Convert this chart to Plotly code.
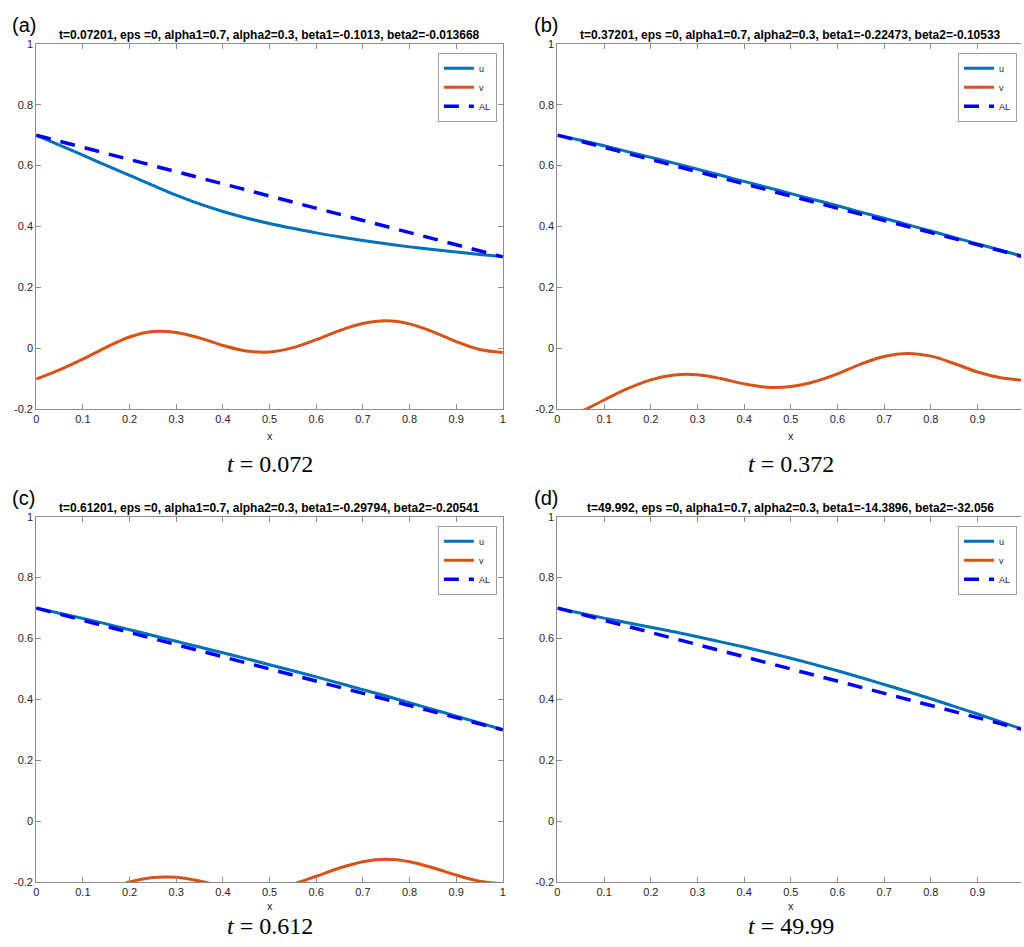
import plotly.graph_objects as go

# ---------------- data ----------------
x_grid = [0.00, 0.05, 0.10, 0.15, 0.20, 0.25, 0.30, 0.35, 0.40, 0.45, 0.50,
          0.55, 0.60, 0.65, 0.70, 0.75, 0.80, 0.85, 0.90, 0.95, 1.00]

# panel (a), t = 0.072
u_a = [0.700, 0.667, 0.634, 0.601, 0.568, 0.535, 0.503, 0.474, 0.449, 0.428, 0.410,
       0.394, 0.379, 0.366, 0.354, 0.343, 0.333, 0.324, 0.316, 0.308, 0.301]
v_a = [-0.1013, -0.071, -0.036, 0.003, 0.037, 0.055, 0.052, 0.034, 0.009, -0.009, -0.0125,
       0.002, 0.028, 0.058, 0.081, 0.090, 0.080, 0.054, 0.022, -0.004, -0.013668]

# panel (b), t = 0.372
u_b = [0.700, 0.683, 0.665, 0.646, 0.627, 0.608, 0.588, 0.568, 0.548, 0.528, 0.508,
       0.488, 0.468, 0.447, 0.427, 0.406, 0.385, 0.364, 0.343, 0.322, 0.300]
v_b = [-0.22473, -0.207, -0.170, -0.133, -0.104, -0.088, -0.087, -0.0995, -0.117, -0.128, -0.1256,
       -0.110, -0.084, -0.052, -0.027, -0.017, -0.026, -0.050, -0.078, -0.097, -0.10533]

# panel (c), t = 0.612
u_c = [0.700, 0.683, 0.666, 0.648, 0.629, 0.610, 0.591, 0.572, 0.553, 0.534, 0.514,
       0.494, 0.474, 0.453, 0.432, 0.411, 0.389, 0.367, 0.345, 0.323, 0.300]
v_c = [-0.29794, -0.283, -0.258, -0.228, -0.200, -0.185, -0.1845, -0.1965, -0.2135, -0.225, -0.223,
       -0.207, -0.181, -0.154, -0.133, -0.125, -0.133, -0.153, -0.177, -0.197, -0.20541]

# panel (d), t = 49.99 (v lies far below the plotted window)
u_d = [0.700, 0.683, 0.667, 0.652, 0.637, 0.622, 0.606, 0.589, 0.572, 0.554, 0.535,
       0.515, 0.494, 0.472, 0.449, 0.426, 0.402, 0.377, 0.352, 0.326, 0.300]
v_d_x = [0.0, 1.0]
v_d = [-14.3896, -32.056]

# straight line joining alpha1 and alpha2
AL_x = [0.0, 1.0]
AL = [0.7, 0.3]

panel_letters = ["(a)", "(b)", "(c)", "(d)"]
panel_titles = [
    "t=0.07201, eps =0, alpha1=0.7, alpha2=0.3, beta1=-0.1013, beta2=-0.013668",
    "t=0.37201, eps =0, alpha1=0.7, alpha2=0.3, beta1=-0.22473, beta2=-0.10533",
    "t=0.61201, eps =0, alpha1=0.7, alpha2=0.3, beta1=-0.29794, beta2=-0.20541",
    "t=49.992, eps =0, alpha1=0.7, alpha2=0.3, beta1=-14.3896, beta2=-32.056",
]
time_labels = ["0.072", "0.372", "0.612", "49.99"]

x_ticks = [0, 0.1, 0.2, 0.3, 0.4, 0.5, 0.6, 0.7, 0.8, 0.9, 1.0]
x_tick_labels = ["0", "0.1", "0.2", "0.3", "0.4", "0.5", "0.6", "0.7", "0.8", "0.9", "1"]
y_ticks = [-0.2, 0, 0.2, 0.4, 0.6, 0.8, 1.0]
y_tick_labels = ["-0.2", "0", "0.2", "0.4", "0.6", "0.8", "1"]

series = [
    (x_grid, u_a, x_grid, v_a),
    (x_grid, u_b, x_grid, v_b),
    (x_grid, u_c, x_grid, v_c),
    (x_grid, u_d, v_d_x, v_d),
]

# ---------------- layout helpers ----------------
W, H = 1024, 947
SANS = "Liberation Sans, Arial, Helvetica, sans-serif"
SERIF = "Liberation Serif, Times New Roman, serif"
AXIS_GREY = "#8c8c8c"
TEXT = "#262626"

# pixel frame of each axes box: left (x=0), right (x=1), top (y=1), bottom (y=-0.2)
frames = [
    (33.4, 502.8, 38.3, 408.3),
    (557.7, 1027.2, 38.3, 408.3),
    (33.4, 502.8, 517.3, 887.3),
    (557.7, 1027.2, 517.3, 887.3),
]


def fx(p):
    return p / W


def fy(p):
    return (H - p) / H


fig = go.Figure()
layout = dict(
    width=W, height=H,
    margin=dict(l=0, r=0, t=0, b=0),
    paper_bgcolor="white", plot_bgcolor="white",
    showlegend=True,
    annotations=[],
)

U_COLOR, V_COLOR, AL_COLOR = "#0072BD", "#D95319", "#0000FF"

for i, (xu, u, xv, v) in enumerate(series):
    n = "" if i == 0 else str(i + 1)
    xa, ya = "x" + n, "y" + n
    leg = "legend" + n
    left, right, top, bottom = frames[i]
    dom_right = min(right, W)
    x_max = (dom_right - left) / (right - left)

    fig.add_trace(go.Scatter(x=xu, y=u, mode="lines", name="u", line=dict(color=U_COLOR, width=3, shape="spline"),
                             xaxis=xa, yaxis=ya, legend=leg))
    fig.add_trace(go.Scatter(x=xv, y=v, mode="lines", name="v", line=dict(color=V_COLOR, width=3, shape="spline"),
                             xaxis=xa, yaxis=ya, legend=leg))
    fig.add_trace(go.Scatter(x=AL_x, y=AL, mode="lines", name="AL",
                             line=dict(color=AL_COLOR, width=3.5, dash="15px,10px"),
                             xaxis=xa, yaxis=ya, legend=leg))

    layout["xaxis" + n] = dict(
        domain=[fx(left), fx(dom_right)], range=[0, x_max], anchor=ya,
        tickvals=x_ticks, ticktext=x_tick_labels,
        ticks="inside", ticklen=5, tickcolor=AXIS_GREY, tickwidth=1,
        showline=True, linecolor=AXIS_GREY, linewidth=1, mirror="ticks",
        showgrid=False, zeroline=False,
        tickfont=dict(family=SANS, size=11, color=TEXT),
    )
    layout["yaxis" + n] = dict(
        domain=[fy(bottom), fy(top)], range=[-0.2, 1.0], anchor=xa,
        tickvals=y_ticks, ticktext=y_tick_labels,
        ticks="inside", ticklen=5, tickcolor=AXIS_GREY, tickwidth=1,
        showline=True, linecolor=AXIS_GREY, linewidth=1,
        mirror="ticks" if right <= W else False,
        showgrid=False, zeroline=False,
        tickfont=dict(family=SANS, size=11, color=TEXT),
    )
    layout[leg] = dict(
        x=fx(right - 6 if right <= W else 1020), y=fy(top + 9),
        xref="paper", yref="paper", xanchor="right", yanchor="top",
        bgcolor="white", bordercolor="#a0a0a0", borderwidth=1,
        font=dict(family=SANS, size=9, color=TEXT),
        itemwidth=30, tracegroupgap=0,
    )

    cx = (left + right) / 2
    is_lower_row = bottom + 71 >= H
    ann = layout["annotations"]
    ann.append(dict(text=panel_letters[i], x=fx(left - 26), y=fy(top - 19), xref="paper", yref="paper",
                    xanchor="left", yanchor="middle", showarrow=False,
                    font=dict(family=SANS, size=20, color="black")))
    ann.append(dict(text="<b>" + panel_titles[i] + "</b>", x=fx(cx), y=fy(top - 9), xref="paper", yref="paper",
                    xanchor="center", yanchor="middle", showarrow=False,
                    font=dict(family=SANS, size=12, color="black")))
    ann.append(dict(text="x", x=fx(cx), y=fy(bottom + (24 if is_lower_row else 27)), xref="paper", yref="paper",
                    xanchor="center", yanchor="middle", showarrow=False,
                    font=dict(family=SANS, size=11, color=TEXT)))
    # time stamp under each panel; the lower row sits on the bottom edge of the figure
    t_bottom = min(bottom + 71, H)
    ann.append(dict(text="<i>t</i> = " + time_labels[i], x=fx(cx), y=fy(t_bottom), xref="paper", yref="paper",
                    xanchor="center", yanchor="bottom", showarrow=False,
                    font=dict(family=SERIF, size=24, color="black")))

fig.update_layout(**layout)
fig.write_html("out.html")
